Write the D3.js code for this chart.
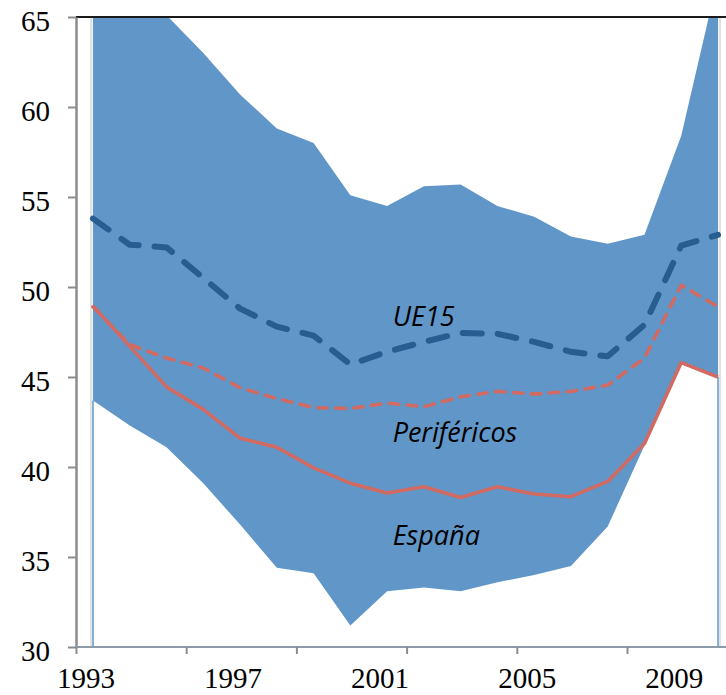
<!DOCTYPE html>
<html>
<head>
<meta charset="utf-8">
<script src="https://cdn.jsdelivr.net/npm/d3@7"></script>
<style>
  html, body { margin: 0; padding: 0; background: #fff; }
  svg { display: block; }
</style>
</head>
<body>
<svg id="chart" width="726" height="695"></svg>
<script>
// ---- data ----
const years = [1993, 1994, 1995, 1996, 1997, 1998, 1999, 2000, 2001, 2002, 2003, 2004, 2005, 2006, 2007, 2008, 2009, 2010];
const bandMax = [69.0, 67.0, 65.1, 63.0, 60.7, 58.8, 58.0, 55.1, 54.5, 55.6, 55.7, 54.5, 53.9, 52.8, 52.4, 52.9, 58.4, 67.2];
const bandMin = [43.7, 42.3, 41.1, 39.1, 36.8, 34.4, 34.1, 31.2, 33.1, 33.3, 33.1, 33.6, 34.0, 34.5, 36.7, 41.2, 45.8, 45.0];
const ue15 = [53.8, 52.35, 52.2, 50.5, 48.8, 47.8, 47.3, 45.7, 46.4, 46.95, 47.45, 47.4, 46.95, 46.4, 46.15, 47.9, 52.3, 52.9];
const perifericos = [48.9, 46.8, 46.05, 45.5, 44.4, 43.8, 43.3, 43.25, 43.55, 43.35, 43.9, 44.2, 44.05, 44.2, 44.55, 46.05, 50.1, 48.9];
const espana = [48.95, 46.7, 44.45, 43.2, 41.6, 41.1, 39.95, 39.1, 38.55, 38.9, 38.3, 38.9, 38.5, 38.35, 39.2, 41.3, 45.8, 45.0];
const yTicks = [30, 35, 40, 45, 50, 55, 60, 65];
const xLabels = [1993, 1997, 2001, 2005, 2009];
const seriesLabels = [
  { text: "UE15", year: 2001.15, value: 47.85 },
  { text: "Periféricos", year: 2001.15, value: 41.4 },
  { text: "España", year: 2001.15, value: 35.65 }
];

// ---- layout ----
const pLeft = 76, pRight = 726, pTop = 17, pBottom = 647;
const svg = d3.select("#chart");

const x = d3.scaleLinear().domain([1993, 2010]).range([93, 718]);
const xLab = d3.scaleLinear().domain([1993, 2010]).range([85.5, 710.5]);
const tickIdx = d3.scaleLinear().domain([0, 5]).range([pLeft, 627]);
const y = d3.scaleLinear().domain([30, 65]).range([pBottom, pTop]);

svg.append("defs").append("clipPath").attr("id", "plot")
  .append("rect").attr("x", pLeft).attr("y", pTop).attr("width", pRight - pLeft).attr("height", pBottom - pTop);

const g = svg.append("g").attr("clip-path", "url(#plot)");

const idx = d3.range(years.length);

// soft shadows at the band edges
[years[0], years[years.length - 1]].forEach((yr, i) => {
  const off = i === 0 ? -1.8 : 1.8;
  g.append("line")
    .attr("x1", x(yr) + off).attr("x2", x(yr) + off)
    .attr("y1", pTop).attr("y2", pBottom)
    .attr("stroke", "#e2e2e2").attr("stroke-width", 2.5);
});

// band
g.append("path")
  .datum(idx)
  .attr("d", d3.area().x(i => x(years[i])).y0(i => y(bandMin[i])).y1(i => y(bandMax[i])))
  .attr("fill", "#6196c8");

// thin outlines of the lower (invisible) area at its ends
[0, years.length - 1].forEach(i => {
  g.append("line")
    .attr("x1", x(years[i])).attr("x2", x(years[i]))
    .attr("y1", y(bandMin[i])).attr("y2", y(30))
    .attr("stroke", "#6a9ed2").attr("stroke-width", 1.6);
});

const line = arr => d3.line().x(i => x(years[i])).y(i => y(arr[i]))(idx);

g.append("path").attr("d", line(ue15))
  .attr("fill", "none").attr("stroke", "#275d90").attr("stroke-width", 6)
  .attr("stroke-dasharray", "19,16").attr("stroke-linecap", "round").attr("stroke-linejoin", "round");

g.append("path").attr("d", line(perifericos))
  .attr("fill", "none").attr("stroke", "#d06a62").attr("stroke-width", 3.6)
  .attr("stroke-dasharray", "9.5,8.5").attr("stroke-linecap", "round").attr("stroke-linejoin", "round");

g.append("path").attr("d", line(espana))
  .attr("fill", "none").attr("stroke", "#d06a62").attr("stroke-width", 3.6)
  .attr("stroke-linejoin", "round");

// series labels
svg.selectAll("text.series").data(seriesLabels).enter().append("text")
  .attr("class", "series")
  .attr("x", d => x(d.year)).attr("y", d => y(d.value))
  .attr("font-family", "'Open Sans', sans-serif").attr("font-style", "italic")
  .attr("font-size", 27).attr("fill", "#000")
  .text(d => d.text);

// top border
svg.append("line").attr("x1", pLeft).attr("x2", pRight).attr("y1", pTop).attr("y2", pTop)
  .attr("stroke", "#1a1a1a").attr("stroke-width", 2);

// y axis
const yAxis = svg.append("g").attr("transform", `translate(${pLeft},0)`)
  .call(d3.axisLeft(y).tickValues(yTicks).tickSize(8).tickPadding(18).tickSizeOuter(0));
yAxis.select(".domain").attr("stroke", "#8c8c8c").attr("stroke-width", 2.5);
yAxis.selectAll(".tick line").attr("stroke", "#8c8c8c").attr("stroke-width", 2);
yAxis.selectAll(".tick text")
  .attr("font-family", "'Liberation Serif', serif").attr("font-size", 29).attr("fill", "#000")
  .attr("dy", "0.46em");

// x axis line and ticks
const xAxis = svg.append("g").attr("transform", `translate(0,${pBottom})`)
  .call(d3.axisBottom(tickIdx).tickValues(d3.range(0, 6)).tickSize(7).tickSizeOuter(0).tickFormat(""));
xAxis.select(".domain").attr("stroke", "#8d9aaa").attr("stroke-width", 2.2)
  .attr("d", `M${pLeft},0H${pRight}`);
xAxis.selectAll(".tick line").attr("stroke", "#8c8c8c").attr("stroke-width", 2);

// x labels
const xl = svg.append("g").attr("transform", `translate(0,${pBottom})`)
  .call(d3.axisBottom(xLab).tickValues(xLabels).tickSize(0).tickFormat(d3.format("d")));
xl.select(".domain").remove();
xl.selectAll(".tick text")
  .attr("font-family", "'Liberation Serif', serif").attr("font-size", 29).attr("fill", "#000")
  .attr("y", 41).attr("dy", 0);
</script>
</body>
</html>
